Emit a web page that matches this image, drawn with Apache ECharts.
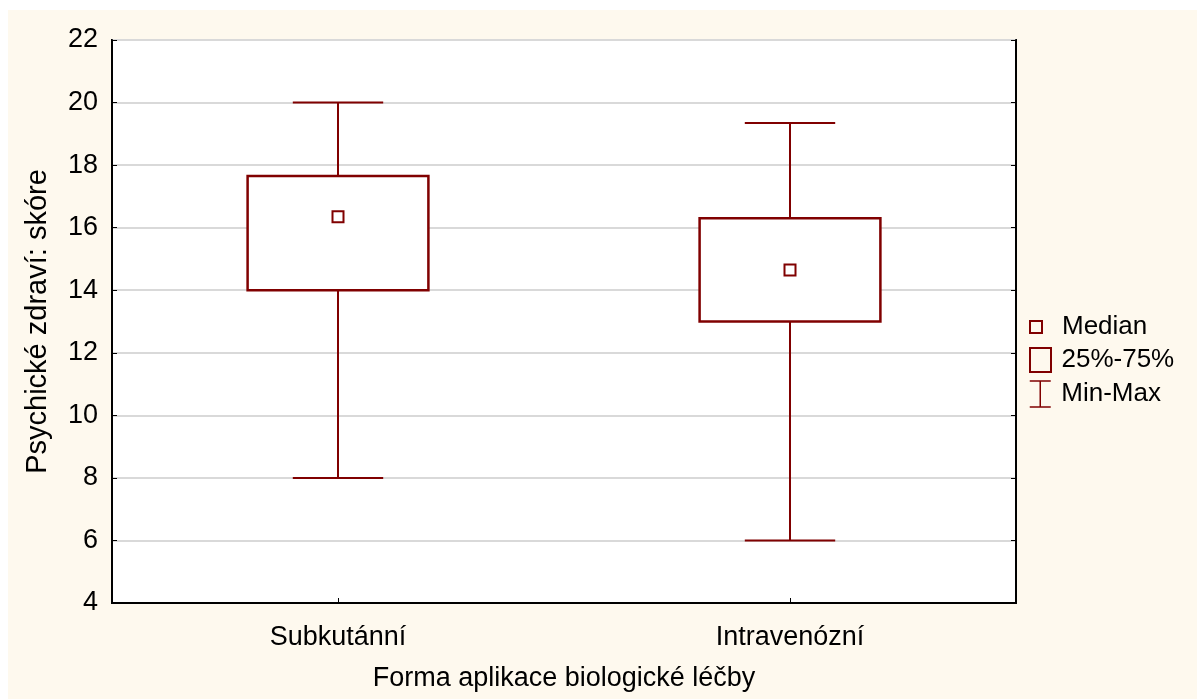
<!DOCTYPE html>
<html>
<head>
<meta charset="utf-8">
<script src="https://cdn.jsdelivr.net/npm/echarts@6/dist/echarts.min.js"></script>
<style>
html,body{margin:0;padding:0;background:#fff;width:1197px;height:699px;overflow:hidden;}
#main{position:absolute;left:8px;top:10px;width:1189px;height:689px;background:#FEF9EE;}
</style>
</head>
<body>
<div id="main"></div>
<script>
// ---- data ----
const categories = ['Subkutánní', 'Intravenózní'];
const minVals    = [8, 6];
const q1Vals     = [14, 13];
const medianVals = [16.35, 14.65];
const q3Vals     = [17.65, 16.3];
const maxVals    = [20, 19.35];
const yTicks     = [4, 6, 8, 10, 12, 14, 16, 18, 20, 22];

const RED = '#800000';
const FONT = '"Liberation Sans", Arial, sans-serif';

const whiskerData = categories.map((c, i) => [i, minVals[i], q1Vals[i], q3Vals[i], maxVals[i]]);
const boxData = categories.map((c, i) => [i, q1Vals[i], q3Vals[i]]);
const medianData = categories.map((c, i) => [i, medianVals[i]]);

const chart = echarts.init(document.getElementById('main'), null, {renderer: 'canvas'});

function legendCfg(name, top, iconPath, h, bw, padL) {
  return {
    data: [name],
    left: 1021, top: top, orient: 'vertical', padding: 0,
    itemWidth: 22, itemHeight: h,
    icon: iconPath,
    itemStyle: {color: 'rgba(0,0,0,0)', borderColor: RED, borderWidth: bw},
    textStyle: {fontFamily: FONT, fontSize: 26, color: '#000', lineHeight: 30, padding: [0, 0, 0, padL]},
    selectedMode: false
  };
}

const option = {
  backgroundColor: 'transparent',
  animation: false,
  grid: {left: 104, top: 30, right: 181, bottom: 96, show: true, backgroundColor: '#fff', borderColor: '#000', borderWidth: 2, containLabel: false},
  legend: [
    legendCfg('Median', 302, 'path://M0,0L10,0L10,10L0,10Z', 12, 2, 10),
    legendCfg('25%-75%', 335, 'path://M0,0L21,0L21,24L0,24Z', 24, 2, 5),
    legendCfg('Min-Max', 369, 'path://M0,0L21,0M10.5,0L10.5,26M0,26L21,26', 26, 1.5, 5)
  ],
  xAxis: {
    type: 'category', data: categories,
    name: 'Forma aplikace biologické léčby', nameLocation: 'middle', nameGap: 62,
    nameTextStyle: {fontFamily: FONT, fontSize: 27, color: '#000'},
    axisLine: {show: true, lineStyle: {color: '#000', width: 2}},
    axisTick: {show: true, inside: true, length: 5, alignWithLabel: true, lineStyle: {color: '#000'}},
    axisLabel: {fontFamily: FONT, fontSize: 27, color: '#000', margin: 21},
    splitLine: {show: false}
  },
  yAxis: [{
    type: 'value', min: 4, max: 22, interval: 2,
    name: 'Psychické zdraví: skóre', nameLocation: 'middle', nameGap: 60,
    nameTextStyle: {fontFamily: FONT, fontSize: 29, color: '#000'},
    axisLine: {show: true, lineStyle: {color: '#000', width: 2}},
    axisTick: {show: true, inside: true, length: 5, lineStyle: {color: '#000'}},
    axisLabel: {fontFamily: FONT, fontSize: 27, color: '#000', margin: 14,
      formatter: v => yTicks.includes(v) ? String(v) : ''},
    splitLine: {show: true, lineStyle: {color: '#D9D9D9', width: 2}}
  }, {
    type: 'value', min: 4, max: 22, interval: 2, position: 'right',
    axisLine: {show: true, lineStyle: {color: '#000', width: 2}},
    axisTick: {show: true, inside: true, length: 5, lineStyle: {color: '#000'}},
    axisLabel: {show: false}, splitLine: {show: false}
  }],
  series: [
    {
      name: 'Min-Max', type: 'custom', itemStyle: {color: RED},
      encode: {x: 0, y: [1, 2, 3, 4]},
      data: whiskerData,
      renderItem: function (params, api) {
        const i = api.value(0);
        const pMin = api.coord([i, api.value(1)]);
        const pQ1 = api.coord([i, api.value(2)]);
        const pQ3 = api.coord([i, api.value(3)]);
        const pMax = api.coord([i, api.value(4)]);
        const band = api.size([1, 0])[0];
        const cap = band * 0.2 / 2;
        const st = {stroke: RED, lineWidth: 2, fill: null};
        return {type: 'group', children: [
          {type: 'line', shape: {x1: pMax[0], y1: pMax[1], x2: pQ3[0], y2: pQ3[1]}, style: st},
          {type: 'line', shape: {x1: pQ1[0], y1: pQ1[1], x2: pMin[0], y2: pMin[1]}, style: st},
          {type: 'line', shape: {x1: pMax[0] - cap, y1: pMax[1], x2: pMax[0] + cap, y2: pMax[1]}, style: st},
          {type: 'line', shape: {x1: pMin[0] - cap, y1: pMin[1], x2: pMin[0] + cap, y2: pMin[1]}, style: st}
        ]};
      }
    },
    {
      name: '25%-75%', type: 'custom', itemStyle: {color: RED},
      encode: {x: 0, y: [1, 2]},
      data: boxData,
      renderItem: function (params, api) {
        const i = api.value(0);
        const p1 = api.coord([i, api.value(1)]);
        const p3 = api.coord([i, api.value(2)]);
        const band = api.size([1, 0])[0];
        const w = band * 0.4;
        return {type: 'rect', shape: {x: p1[0] - w / 2, y: p3[1], width: w, height: p1[1] - p3[1]},
          style: {fill: '#fff', stroke: RED, lineWidth: 2.5}};
      }
    },
    {
      name: 'Median', type: 'scatter', symbol: 'rect', symbolSize: 11,
      itemStyle: {color: '#fff', borderColor: RED, borderWidth: 2, opacity: 1},
      data: medianData, z: 5
    }
  ]
};
chart.setOption(option);
</script>
</body>
</html>
